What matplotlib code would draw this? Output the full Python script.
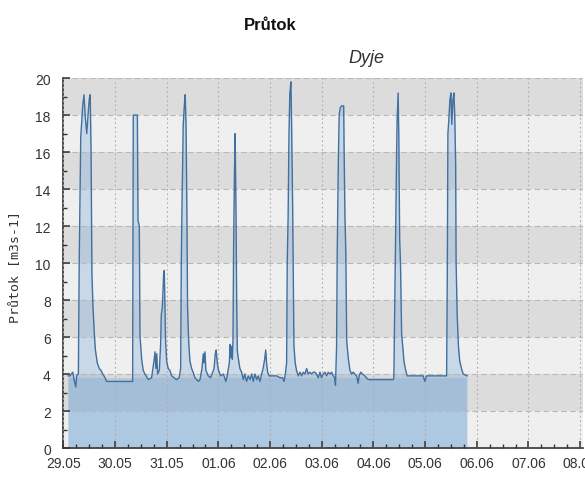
import numpy as np
import pandas as pd
import matplotlib
matplotlib.use("Agg")
import matplotlib.pyplot as plt
import matplotlib.dates as mdates

# hours since 29.05 00:00 and flow values [m3/s]
hours = [2.3, 3.1, 4.4, 5.0, 5.8, 6.2, 7.0, 7.4, 8.1, 9.0, 9.6, 10.2, 10.9, 11.6, 12.1, 12.5,
         12.9, 13.3, 13.8, 14.4, 14.9, 15.8, 16.7, 17.5, 18.3, 19.4, 20.1,
         32.2, 32.5, 34.4, 34.7, 35.3, 35.6, 36.4, 37.1, 37.9, 39.5, 41.0, 42.1, 42.6, 43.0,
         43.4, 43.8, 44.6, 45.2, 45.5, 46.0, 46.3, 46.6, 46.9, 47.2, 47.5, 48.0, 48.7, 49.5,
         50.3, 52.6, 53.8, 54.5, 54.8, 55.2, 55.7, 56.2, 56.6, 57.0, 57.4, 57.7, 58.2, 58.8,
         59.6, 60.3, 61.1, 62.7, 63.5, 64.4, 65.0, 65.3, 65.8, 66.2, 67.3, 68.4, 69.4, 70.0,
         70.6, 71.0, 71.5, 72.1, 73.1,
         74.3, 75.5, 76.1, 77.1, 77.5, 77.8, 78.2, 78.5, 78.8, 79.1, 79.5, 79.8, 80.2, 80.5,
         80.8, 81.2, 82.0, 82.8, 83.6, 84.3, 85.1, 85.9, 86.7, 87.5, 88.2, 89.0, 89.8, 90.5,
         91.3, 92.1, 92.8, 93.5, 94.0, 94.4, 94.9, 95.6, 97.5, 99.1, 100.6, 101.8, 102.5,
         103.1, 103.7, 104.0, 104.4, 104.8, 105.2, 105.7, 106.0, 106.5, 106.8, 107.1, 107.7,
         108.3, 109.1,
         109.9, 110.7, 111.4, 112.2, 113.0, 113.7, 114.5, 115.3, 116.1, 116.8, 117.6, 118.4,
         119.2, 119.9, 120.7, 121.5, 122.3, 123.0, 123.8, 124.6, 125.3, 126.0, 126.4, 126.9,
         127.2, 127.7, 128.1, 128.6, 129.2, 130.2, 130.4, 130.8, 131.2, 131.6, 132.3, 133.1,
         133.9, 134.6, 135.4, 136.2, 136.9, 137.4, 138.1, 139.0, 140.0, 140.8, 141.6,
         153.2, 153.5, 153.8, 154.1, 154.4, 154.8, 155.0, 155.5, 155.8, 156.2, 156.6, 157.1,
         157.6, 158.2, 158.8, 159.7, 167.1, 167.9, 168.7, 178.0, 178.3, 178.6, 179.0, 179.5,
         180.0, 180.4, 180.9, 181.4, 181.8, 182.2, 182.4, 182.9, 183.5, 184.1, 184.9, 185.7,
         187.5]

flow = [3.9, 3.9, 4.1, 3.7, 3.3, 3.9, 4.0, 10.1, 16.8, 18.5, 19.1, 17.9, 17.0, 18.2, 18.9, 19.1,
        16.0, 9.4, 7.6, 6.2, 5.3, 4.6, 4.3, 4.2, 4.0, 3.8, 3.6,
        3.6, 18.0, 18.0, 12.3, 12.0, 6.1, 4.8, 4.2, 4.0, 3.7, 3.8, 4.7, 5.2, 4.3,
        5.1, 4.0, 4.2, 5.6, 7.2, 7.6, 8.5, 9.4, 9.6, 7.6, 5.8, 4.7, 4.3, 4.2,
        3.9, 3.7, 3.8, 4.3, 10.1, 13.7, 17.5, 18.5, 19.1, 17.5, 12.7, 7.6, 5.8, 4.7,
        4.3, 4.1, 3.8, 3.6, 3.7, 4.3, 5.1, 4.6, 5.2, 4.2, 3.9, 3.8, 4.1, 4.3,
        5.1, 5.3, 4.6, 4.2, 3.9,
        4.0, 3.6, 3.9, 4.6, 5.6, 4.9, 5.5, 4.8, 5.8, 11.0, 15.0, 17.0, 12.7, 8.0,
        5.3, 4.9, 4.3, 4.1, 3.7, 4.0, 3.6, 3.9, 3.7, 4.0, 3.6, 4.0, 3.7, 3.9,
        3.6, 4.0, 4.3, 4.8, 5.3, 4.6, 4.1, 3.9, 3.9, 3.9, 3.8, 3.8, 3.6,
        4.0, 4.6, 10.1, 12.5, 17.0, 19.2, 19.8, 17.7, 13.1, 9.4, 5.5, 4.6,
        4.2, 3.9,
        4.1, 3.9, 4.1, 4.0, 4.3, 4.0, 4.1, 4.0, 4.1, 4.1, 4.0, 3.8,
        4.1, 3.8, 4.0, 4.1, 3.9, 4.1, 4.0, 4.1, 3.9, 3.8, 3.4, 5.5,
        10.5, 15.3, 18.0, 18.4, 18.5, 18.5, 16.1, 12.5, 10.5, 5.8, 4.9, 4.2,
        4.0, 4.1, 4.0, 3.9, 3.5, 3.9, 4.1, 4.0, 3.9, 3.8, 3.7,
        3.7, 3.8, 6.7, 9.4, 12.5, 16.1, 17.7, 19.2, 16.8, 11.3, 9.9, 6.2,
        5.5, 4.7, 4.3, 3.9, 3.9, 3.6, 3.9, 3.9, 9.0, 17.0, 17.7, 18.8,
        19.2, 17.5, 18.8, 19.2, 17.9, 15.3, 10.1, 7.2, 5.5, 4.7, 4.3, 4.0,
        3.9]

base_flow = 3.8
start = pd.Timestamp("2021-05-29")
t = mdates.date2num(start + pd.to_timedelta(hours, unit="h"))
t_span = [t[0], t[-1]]

fig = plt.figure(figsize=(5.85, 4.81), dpi=100)
ax = fig.add_axes([0.1082, 0.0665, 0.889, 0.769])

# alternating background bands
for lo in range(0, 20, 2):
    ax.axhspan(lo, lo + 2, color="#dcdcdc" if (lo // 2) % 2 else "#efefef", zorder=0, lw=0)

ax.fill_between(t_span, 0, base_flow, color="#6fa3d6", alpha=0.3, lw=0, zorder=2)
ax.fill_between(t, 0, flow, color="#6fa3d6", alpha=0.3, lw=0, zorder=2)
ax.plot(t, flow, color="#416f9e", lw=1.0, zorder=3)

ax.set_ylim(0, 20)
ax.set_xlim(mdates.date2num(start), mdates.date2num(start + pd.Timedelta(hours=241.5)))
ax.set_yticks(range(0, 21, 2))
ax.set_yticks(range(1, 20, 2), minor=True)
ax.xaxis.set_major_locator(mdates.DayLocator())
ax.xaxis.set_major_formatter(mdates.DateFormatter("%d.%m"))
ax.xaxis.set_minor_locator(mdates.HourLocator(byhour=[6, 12, 18]))

ax.grid(axis="y", which="major", color="#b8b8b8", ls=(0, (5, 3)), lw=0.8, zorder=1)
ax.grid(axis="x", which="major", color="#adadad", ls=(0, (1.5, 2.5)), lw=0.8, zorder=1)
ax.set_axisbelow(False)

for s in ["top", "right"]:
    ax.spines[s].set_visible(False)
for s in ["left", "bottom"]:
    ax.spines[s].set_color("#333333")
    ax.spines[s].set_linewidth(1.2)

ax.tick_params(which="both", direction="in", colors="#333333", labelcolor="#333333",
               labelsize=10)
ax.tick_params(which="major", length=5, width=1.1)
ax.tick_params(which="minor", length=3, width=1.0)
ax.tick_params(axis="x", pad=6)
ax.tick_params(axis="y", pad=9)
for lbl in ax.get_xticklabels() + ax.get_yticklabels():
    lbl.set_family("Liberation Sans")

fig.text(0.4615, 0.948, "Průtok", ha="center", va="center", fontsize=12,
         fontweight="bold", family="Liberation Sans", color="#111111")
fig.text(0.626, 0.879, "Dyje", ha="center", va="center", fontsize=13,
         style="italic", family="Liberation Sans", color="#333333")
fig.text(0.027, 0.445, "Průtok [m3s-1]", rotation=90, ha="center", va="center",
         fontsize=9.5, family="DejaVu Sans Mono", color="#333333")

fig.savefig("out.png", dpi=100)
